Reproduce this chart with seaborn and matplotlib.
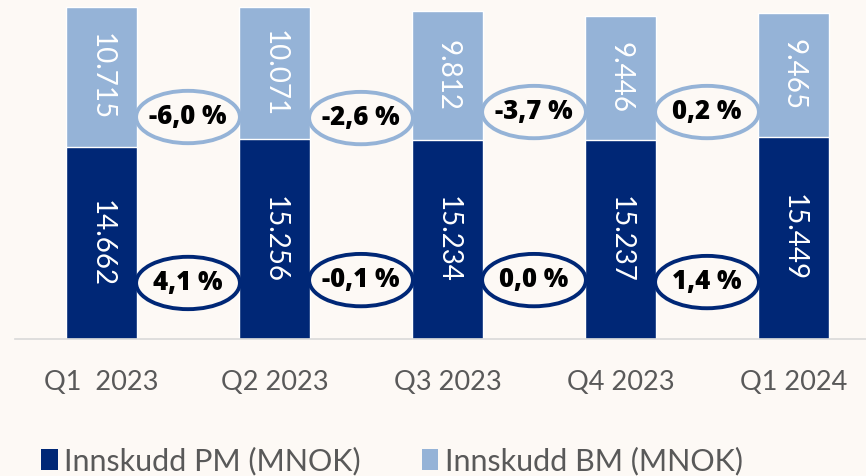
import matplotlib
matplotlib.use("Agg")
import matplotlib.pyplot as plt
from matplotlib.patches import Ellipse, Patch
import seaborn as sns
import numpy as np

categories = ["Q1  2023", "Q2 2023", "Q3 2023", "Q4 2023", "Q1 2024"]
pm_values = [14662, 15256, 15234, 15237, 15449]
bm_values = [10715, 10071, 9812, 9446, 9465]
series_names = ["Innskudd PM (MNOK)", "Innskudd BM (MNOK)"]

# layout: vertical centres of the change bubbles (data units)
bm_bubble_y = [16960, 16880, 17340, 17340]
pm_bubble_y = [4280, 4500, 4500, 4350]

DARK = "#002776"
LIGHT = "#95B3D7"
BG = "#FDF9F5"
GREY = "#595959"

sns.set_theme(style="white")
plt.rcParams["font.family"] = ["Lato", "DejaVu Sans"]

fig = plt.figure(figsize=(8.66, 4.76), dpi=100, facecolor=BG)
ax = fig.add_axes([15 / 866, 137 / 476, 865 / 866, 339 / 476])
ax.set_facecolor(BG)

totals = [p + b for p, b in zip(pm_values, bm_values)]
sns.barplot(x=categories, y=totals, color=LIGHT, saturation=1, width=0.405, ax=ax)
sns.barplot(x=categories, y=pm_values, color=DARK, saturation=1, width=0.405, ax=ax)

ax.set_xlim(-0.5, 4.5)
ax.set_ylim(0, 25900)
ax.set_yticks([])
ax.set_xlabel("")
ax.set_ylabel("")
for s in ["top", "left", "right"]:
    ax.spines[s].set_visible(False)
ax.spines["bottom"].set_color("#D9D9D9")
ax.spines["bottom"].set_linewidth(1.2)
ax.tick_params(axis="x", length=0, pad=22, labelsize=19.5, labelcolor=GREY)

def fmt(v):
    return f"{v:,}".replace(",", ".")

for i, (p, b) in enumerate(zip(pm_values, bm_values)):
    ax.text(i, p / 2, fmt(p), rotation=-90, ha="center", va="center",
            color="white", fontsize=20, zorder=10)
    ax.text(i, p + b / 2, fmt(b), rotation=-90, ha="center", va="center",
            color="white", fontsize=20, zorder=10)

def pct(a, b):
    v = (b - a) / a * 100
    s = f"{v:.1f}".replace(".", ",")
    if s == "-0,0":
        s = "0,0"
    return s + " %"

for i in range(4):
    for vals, ys, col in [(bm_values, bm_bubble_y, LIGHT), (pm_values, pm_bubble_y, DARK)]:
        y = ys[i]
        e = Ellipse((i + 0.5, y), width=0.6, height=4000, facecolor=BG,
                    edgecolor=col, linewidth=2.8, zorder=5)
        ax.add_patch(e)
        ax.text(i + 0.5, y, pct(vals[i], vals[i + 1]), ha="center", va="center",
                fontsize=18.5, fontweight="heavy", color="black", zorder=6,
                family=["Open Sans", "DejaVu Sans"])

handles = [Patch(facecolor=DARK, edgecolor="none"), Patch(facecolor=LIGHT, edgecolor="none")]
fig.legend(handles, series_names, loc="center left", bbox_to_anchor=(41 / 866, 15 / 476),
           ncol=2, frameon=False, fontsize=22, labelcolor=GREY,
           handlelength=0.55, handleheight=0.65, handletextpad=0.2, columnspacing=2.0,
           borderaxespad=0, borderpad=0)

fig.savefig("out.png", dpi=100, facecolor=BG)
